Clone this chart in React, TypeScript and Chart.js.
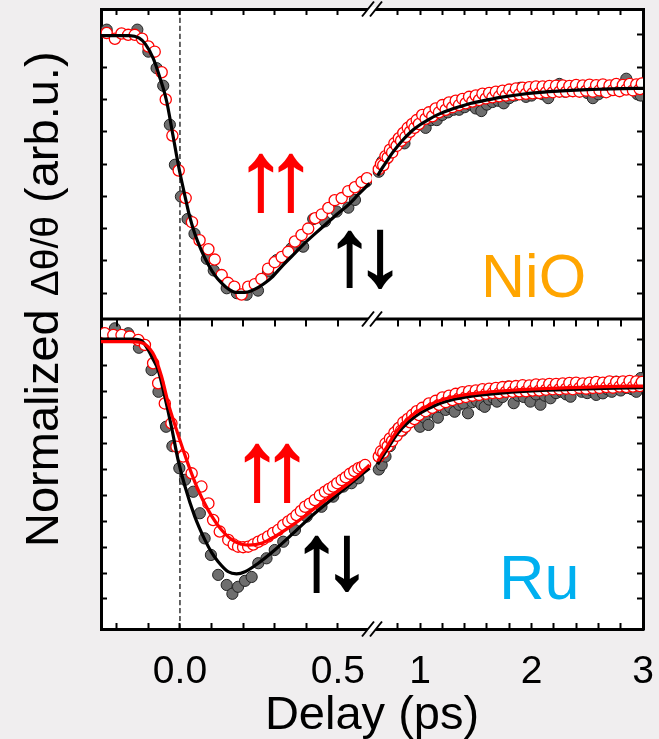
import { useEffect, useRef } from 'react';
import { Chart, registerables } from 'chart.js';

Chart.register(...registerables);

type Pt = [number, number];

// ---------- axis ranges & ticks ----------
const xLeftRange: Pt = [-0.25, 0.608];
const xRightRange: Pt = [0.569, 3.0];
const yTopRange: Pt = [-1.1, 0.1];
const yBottomRange: Pt = [-1.116, 0.081];
const xLeftTickValues = [0, 0.5];
const xLeftTickLabels = ['0.0', '0.5'];
const xRightTickValues = [1, 2, 3];
const xRightTickLabels = ['1', '2', '3'];
const zeroDelay = 0;

// ---------- NiO (top panel) ----------
const nioGrayLeft: Pt[] = [
  [-0.232, 0.02], [-0.135, 0.02], [-0.1, -0.065], [-0.074, -0.129], [-0.053, -0.197], [-0.032, -0.348],
  [-0.016, -0.503], [0.003, -0.626], [0.024, -0.713], [0.046, -0.77], [0.085, -0.867], [0.107, -0.912],
  [0.148, -0.981], [0.18, -1.0], [0.211, -1.006], [0.247, -0.99], [0.279, -0.916], [0.306, -0.872],
  [0.353, -0.826], [0.39, -0.82], [0.422, -0.713], [0.459, -0.722], [0.496, -0.684], [0.533, -0.669],
  [0.554, -0.639], [0.59, -0.568],
];
const nioRedLeft: Pt[] = [
  [-0.232, 0.007], [-0.206, -0.015], [-0.185, 0.005], [-0.164, 0.0], [-0.143, 0.0], [-0.12, -0.015],
  [-0.1, -0.045], [-0.08, -0.065], [-0.058, -0.145], [-0.045, -0.25], [-0.024, -0.39], [-0.004, -0.525],
  [0.018, -0.632], [0.038, -0.725], [0.062, -0.795], [0.09, -0.83], [0.11, -0.87], [0.132, -0.93],
  [0.152, -0.96], [0.172, -0.975], [0.195, -1.005], [0.216, -0.975], [0.237, -0.965], [0.258, -0.945],
  [0.279, -0.905], [0.3, -0.88], [0.322, -0.86], [0.343, -0.84], [0.364, -0.8], [0.385, -0.775],
  [0.406, -0.75], [0.428, -0.71], [0.449, -0.695], [0.47, -0.67], [0.49, -0.64], [0.512, -0.632],
  [0.533, -0.605], [0.554, -0.59], [0.575, -0.57], [0.592, -0.555],
];
const nioFitLeft: Pt[] = [
  [-0.25, -0.003], [-0.16, -0.003], [-0.13, -0.012], [-0.11, -0.035], [-0.085, -0.09], [-0.065, -0.16],
  [-0.042, -0.258], [-0.025, -0.37], [-0.011, -0.465], [0.0, -0.535], [0.016, -0.625], [0.03, -0.7],
  [0.047, -0.77], [0.068, -0.835], [0.09, -0.89], [0.11, -0.93], [0.132, -0.961], [0.155, -0.985],
  [0.18, -0.997], [0.206, -0.997], [0.228, -0.99], [0.248, -0.978], [0.27, -0.96], [0.29, -0.94],
  [0.325, -0.893], [0.364, -0.845], [0.405, -0.795], [0.448, -0.748], [0.49, -0.702], [0.533, -0.658],
  [0.565, -0.618], [0.6, -0.575],
];
const nioGrayRight: Pt[] = [
  [0.63, -0.53], [0.66, -0.49], [0.7, -0.48], [0.74, -0.45], [0.78, -0.43], [0.82, -0.41], [0.86, -0.42],
  [0.9, -0.37], [0.95, -0.35], [1.0, -0.345], [1.05, -0.36], [1.1, -0.33], [1.15, -0.33], [1.2, -0.31],
  [1.25, -0.3], [1.3, -0.29], [1.35, -0.29], [1.4, -0.28], [1.45, -0.27], [1.5, -0.285], [1.55, -0.295],
  [1.6, -0.27], [1.65, -0.26], [1.7, -0.255], [1.75, -0.265], [1.8, -0.245], [1.85, -0.235], [1.9, -0.205],
  [1.95, -0.24], [2.0, -0.235], [2.05, -0.225], [2.1, -0.23], [2.15, -0.245], [2.2, -0.21], [2.25, -0.19],
  [2.3, -0.22], [2.35, -0.215], [2.4, -0.21], [2.45, -0.215], [2.5, -0.225], [2.55, -0.245], [2.6, -0.23],
  [2.65, -0.22], [2.7, -0.215], [2.75, -0.205], [2.8, -0.2], [2.85, -0.17], [2.9, -0.205], [2.95, -0.23],
  [2.98, -0.235],
];
const nioRedRight: Pt[] = [
  [0.63, -0.52], [0.65, -0.5], [0.67, -0.505], [0.69, -0.47], [0.71, -0.475], [0.73, -0.445], [0.75, -0.455],
  [0.77, -0.42], [0.79, -0.43], [0.81, -0.4], [0.83, -0.41], [0.85, -0.38], [0.87, -0.395], [0.89, -0.36],
  [0.91, -0.375], [0.93, -0.345], [0.95, -0.36], [0.97, -0.33], [0.99, -0.345], [1.02, -0.31], [1.05, -0.325],
  [1.08, -0.3], [1.11, -0.315], [1.14, -0.285], [1.17, -0.3], [1.2, -0.272], [1.23, -0.29], [1.26, -0.262],
  [1.29, -0.28], [1.32, -0.255], [1.35, -0.272], [1.38, -0.248], [1.41, -0.265], [1.44, -0.24], [1.47, -0.258],
  [1.5, -0.235], [1.53, -0.252], [1.56, -0.228], [1.59, -0.246], [1.62, -0.225], [1.65, -0.242], [1.68, -0.22],
  [1.71, -0.238], [1.74, -0.216], [1.77, -0.235], [1.8, -0.212], [1.83, -0.232], [1.86, -0.208], [1.89, -0.23],
  [1.92, -0.205], [1.95, -0.228], [1.98, -0.203], [2.01, -0.226], [2.04, -0.2], [2.07, -0.225], [2.1, -0.2],
  [2.13, -0.222], [2.16, -0.198], [2.19, -0.222], [2.22, -0.197], [2.25, -0.22], [2.28, -0.196], [2.31, -0.22],
  [2.34, -0.198], [2.37, -0.218], [2.4, -0.194], [2.43, -0.22], [2.46, -0.196], [2.49, -0.216], [2.52, -0.193],
  [2.55, -0.22], [2.58, -0.195], [2.61, -0.215], [2.64, -0.192], [2.67, -0.222], [2.7, -0.196], [2.73, -0.214],
  [2.76, -0.19], [2.79, -0.218], [2.82, -0.194], [2.85, -0.212], [2.88, -0.19], [2.91, -0.215], [2.94, -0.192],
  [2.97, -0.21], [2.99, -0.188],
];
const nioFitRight: Pt[] = [
  [0.62, -0.545], [0.66, -0.516], [0.7, -0.49], [0.75, -0.458], [0.8, -0.43], [0.85, -0.405], [0.9, -0.383],
  [0.95, -0.364], [1.0, -0.348], [1.08, -0.327], [1.15, -0.311], [1.22, -0.298], [1.3, -0.285], [1.38, -0.275],
  [1.45, -0.266], [1.6, -0.252], [1.75, -0.24], [1.9, -0.231], [2.05, -0.224], [2.2, -0.219], [2.35, -0.215],
  [2.5, -0.212], [2.65, -0.21], [2.8, -0.208], [3.0, -0.207],
];

// ---------- Ru (bottom panel) ----------
const ruGrayLeft: Pt[] = [
  [-0.206, 0.045], [-0.164, 0.026], [-0.13, -0.03], [-0.09, -0.116], [-0.068, -0.2], [-0.044, -0.335],
  [-0.024, -0.41], [-0.002, -0.495], [0.016, -0.54], [0.042, -0.586], [0.063, -0.669], [0.078, -0.766],
  [0.098, -0.83], [0.121, -0.907], [0.148, -0.946], [0.166, -0.98], [0.184, -0.953], [0.206, -0.93],
  [0.227, -0.915], [0.248, -0.862], [0.274, -0.843], [0.3, -0.811], [0.327, -0.779], [0.364, -0.734],
  [0.401, -0.682], [0.448, -0.644], [0.485, -0.605], [0.517, -0.566], [0.543, -0.553], [0.565, -0.534],
];
const ruRedLeft: Pt[] = [
  [-0.238, 0.026], [-0.211, 0.019], [-0.185, 0.019], [-0.159, 0.013], [-0.132, 0.0], [-0.111, -0.019],
  [-0.085, -0.09], [-0.069, -0.167], [-0.048, -0.245], [-0.027, -0.322], [-0.011, -0.412], [0.01, -0.45],
  [0.037, -0.515], [0.068, -0.566], [0.09, -0.631], [0.105, -0.695], [0.126, -0.74], [0.153, -0.772],
  [0.17, -0.79], [0.184, -0.798], [0.2, -0.8], [0.216, -0.798], [0.232, -0.79], [0.248, -0.779],
  [0.263, -0.77], [0.279, -0.759], [0.295, -0.745], [0.311, -0.734], [0.327, -0.715], [0.343, -0.701],
  [0.356, -0.69], [0.369, -0.676], [0.383, -0.66], [0.396, -0.644], [0.411, -0.632], [0.427, -0.618],
  [0.443, -0.6], [0.459, -0.586], [0.472, -0.575], [0.485, -0.566], [0.498, -0.553], [0.512, -0.541],
  [0.525, -0.53], [0.538, -0.517], [0.552, -0.506], [0.565, -0.495], [0.576, -0.49], [0.586, -0.483],
];
const ruBlackFitLeft: Pt[] = [
  [-0.25, 0.003], [-0.15, 0.003], [-0.122, -0.003], [-0.1, -0.039], [-0.085, -0.075], [-0.069, -0.116],
  [-0.048, -0.219], [-0.027, -0.335], [-0.006, -0.463], [0.016, -0.566], [0.047, -0.682], [0.079, -0.772],
  [0.1, -0.82], [0.121, -0.856], [0.153, -0.895], [0.179, -0.903], [0.206, -0.895], [0.248, -0.862],
  [0.3, -0.811], [0.364, -0.74], [0.427, -0.669], [0.491, -0.605], [0.554, -0.541], [0.6, -0.495],
];
const ruRedFitLeft: Pt[] = [
  [-0.25, -0.006], [-0.16, -0.006], [-0.13, -0.008], [-0.111, -0.016], [-0.095, -0.035], [-0.08, -0.064],
  [-0.058, -0.142], [-0.037, -0.245], [-0.011, -0.347], [0.021, -0.463], [0.053, -0.566], [0.089, -0.656],
  [0.132, -0.734], [0.174, -0.779], [0.216, -0.792], [0.258, -0.785], [0.3, -0.759], [0.364, -0.708],
  [0.427, -0.65], [0.491, -0.592], [0.554, -0.534], [0.6, -0.482],
];
const ruGrayRight: Pt[] = [
  [0.63, -0.5], [0.656, -0.483], [0.69, -0.45], [0.73, -0.41], [0.77, -0.37], [0.805, -0.341], [0.84, -0.35],
  [0.88, -0.32], [0.92, -0.3], [0.96, -0.31], [1.0, -0.335], [1.04, -0.3], [1.075, -0.328], [1.12, -0.28],
  [1.16, -0.3], [1.195, -0.232], [1.23, -0.27], [1.27, -0.26], [1.31, -0.277], [1.35, -0.25], [1.39, -0.245],
  [1.43, -0.283], [1.47, -0.24], [1.51, -0.235], [1.55, -0.25], [1.58, -0.258], [1.62, -0.23], [1.66, -0.225],
  [1.69, -0.238], [1.74, -0.22], [1.79, -0.18], [1.84, -0.244], [1.88, -0.215], [1.93, -0.22], [1.99, -0.238],
  [2.04, -0.21], [2.08, -0.25], [2.12, -0.215], [2.17, -0.225], [2.22, -0.205], [2.27, -0.2], [2.31, -0.21],
  [2.35, -0.219], [2.41, -0.174], [2.45, -0.2], [2.5, -0.205], [2.54, -0.195], [2.58, -0.212], [2.64, -0.206],
  [2.68, -0.19], [2.72, -0.2], [2.76, -0.161], [2.8, -0.195], [2.85, -0.185], [2.9, -0.19], [2.94, -0.2],
  [2.98, -0.147],
];
const ruRedRight: Pt[] = [
  [0.63, -0.45], [0.65, -0.43], [0.67, -0.435], [0.69, -0.4], [0.71, -0.41], [0.73, -0.38], [0.75, -0.39],
  [0.77, -0.358], [0.79, -0.37], [0.81, -0.34], [0.83, -0.35], [0.85, -0.318], [0.87, -0.335], [0.89, -0.305],
  [0.91, -0.318], [0.93, -0.29], [0.95, -0.305], [0.97, -0.275], [0.99, -0.29], [1.02, -0.262], [1.05, -0.275],
  [1.08, -0.245], [1.11, -0.262], [1.14, -0.235], [1.17, -0.25], [1.2, -0.222], [1.23, -0.24], [1.26, -0.215],
  [1.29, -0.232], [1.32, -0.208], [1.35, -0.225], [1.38, -0.202], [1.41, -0.22], [1.44, -0.198], [1.47, -0.215],
  [1.5, -0.195], [1.53, -0.212], [1.56, -0.19], [1.59, -0.208], [1.62, -0.188], [1.65, -0.205], [1.68, -0.185],
  [1.71, -0.205], [1.74, -0.182], [1.77, -0.2], [1.8, -0.18], [1.83, -0.2], [1.86, -0.178], [1.89, -0.198],
  [1.92, -0.175], [1.95, -0.198], [1.98, -0.176], [2.01, -0.195], [2.04, -0.172], [2.07, -0.195], [2.1, -0.172],
  [2.13, -0.192], [2.16, -0.17], [2.19, -0.19], [2.22, -0.17], [2.25, -0.19], [2.28, -0.168], [2.31, -0.188],
  [2.34, -0.166], [2.37, -0.19], [2.4, -0.165], [2.43, -0.185], [2.46, -0.168], [2.49, -0.188], [2.52, -0.165],
  [2.55, -0.185], [2.58, -0.162], [2.61, -0.185], [2.64, -0.165], [2.67, -0.182], [2.7, -0.16], [2.73, -0.184],
  [2.76, -0.162], [2.79, -0.18], [2.82, -0.16], [2.85, -0.182], [2.88, -0.158], [2.91, -0.18], [2.94, -0.16],
  [2.97, -0.178], [2.99, -0.162],
];
const ruBlackFitRight: Pt[] = [
  [0.62, -0.48], [0.7, -0.425], [0.8, -0.36], [0.9, -0.315], [1.0, -0.283], [1.15, -0.25], [1.3, -0.23],
  [1.45, -0.218], [1.6, -0.21], [1.75, -0.204], [2.05, -0.196], [2.35, -0.191], [2.65, -0.187], [3.0, -0.184],
];
const ruRedFitRight: Pt[] = [
  [0.62, -0.468], [0.66, -0.44], [0.7, -0.415], [0.73, -0.393], [0.79, -0.353], [0.85, -0.322], [0.92, -0.294],
  [1.0, -0.27], [1.08, -0.252], [1.15, -0.238], [1.22, -0.228], [1.3, -0.219], [1.45, -0.208], [1.6, -0.201],
  [1.75, -0.196], [1.9, -0.192], [2.05, -0.189], [2.35, -0.184], [2.65, -0.18], [3.0, -0.178],
];

// ---------- text ----------
const panelNames = ['NiO', 'Ru'];
const xTitle = 'Delay (ps)';
const yTitleParts = ['Normalized ', '\u0394\u03b8/\u03b8', ' (arb.u.)'];

// ---------- styles ----------
const FONT = '"Liberation Sans", Arial, Helvetica, sans-serif';
const RED = '#ff0000';
const GRAY = '#6e6e6e';
const TICK = 6;
const MARKER_R = 5.6;

const visXL = (v: number) => v < 0.55;
const visXR = (v: number) => v > 0.7;
const visYB = (v: number) => v > -1.05;
const visAll = (_v: number) => true;

const xy = (a: Pt[]) => a.map(([x, y]) => ({ x, y }));

function axis(opts: {
  position: string; stack: string; weight: number; range: Pt; step: number;
  vis: (v: number) => boolean; labels?: [number[], string[]]; size: number; horizontal: boolean;
}) {
  const { position, stack, weight, range, step, vis, labels, size, horizontal } = opts;
  return {
    type: 'linear',
    position, stack, stackWeight: 1, weight,
    min: range[0], max: range[1],
    grid: {
      display: true, drawOnChartArea: false, drawTicks: true, tickLength: -TICK, tickWidth: 2,
      color: '#000',
      tickColor: (c: any) => (vis(c.tick.value) ? '#000' : 'rgba(0,0,0,0)'),
    },
    border: { display: true, color: '#000', width: 3 },
    ticks: {
      display: !!labels, stepSize: step, includeBounds: false, autoSkip: false,
      maxRotation: 0, minRotation: 0, padding: 26, color: '#000',
      font: { size: 39, family: FONT },
      callback: (v: number) => {
        if (!labels) return '';
        const i = labels[0].findIndex((u) => Math.abs(u - v) < 1e-6);
        return i >= 0 ? labels[1][i] : '';
      },
    },
    afterFit: (s: any) => {
      if (horizontal) s.height = size; else s.width = size;
      s.paddingLeft = 0;
      s.paddingRight = 0;
      s.paddingTop = 0;
      s.paddingBottom = 0;
    },
  };
}

function glyph(ctx: CanvasRenderingContext2D, ch: string, cx: number, cy: number, h: number, color: string) {
  ctx.font = `bold 100px ${FONT}`;
  const m = ctx.measureText(ch);
  const gh = m.actualBoundingBoxAscent + m.actualBoundingBoxDescent || 100;
  const size = (100 * (h - 2)) / gh;
  ctx.font = `bold ${size}px ${FONT}`;
  const m2 = ctx.measureText(ch);
  ctx.textAlign = 'left';
  ctx.textBaseline = 'alphabetic';
  const x = cx - (m2.actualBoundingBoxRight - m2.actualBoundingBoxLeft) / 2;
  const y = cy - (m2.actualBoundingBoxDescent - m2.actualBoundingBoxAscent) / 2;
  ctx.fillStyle = color;
  ctx.strokeStyle = color;
  ctx.lineWidth = 2;
  ctx.lineJoin = 'miter';
  ctx.fillText(ch, x, y);
  ctx.strokeText(ch, x, y);
}

const arrows = [
  { ch: '\u2191', color: RED, xs: 'xL', x: 0.256, ys: 'yT', y: -0.573, h: 60 },
  { ch: '\u2191', color: RED, xs: 'xL', x: 0.351, ys: 'yT', y: -0.573, h: 60 },
  { ch: '\u2191', color: '#000', xs: 'xL', x: 0.538, ys: 'yT', y: -0.867, h: 58 },
  { ch: '\u2193', color: '#000', xs: 'xR', x: 0.641, ys: 'yT', y: -0.867, h: 60 },
  { ch: '\u2191', color: RED, xs: 'xL', x: 0.244, ys: 'yB', y: -0.514, h: 60 },
  { ch: '\u2191', color: RED, xs: 'xL', x: 0.339, ys: 'yB', y: -0.514, h: 60 },
  { ch: '\u2191', color: '#000', xs: 'xL', x: 0.434, ys: 'yB', y: -0.865, h: 58 },
  { ch: '\u2193', color: '#000', xs: 'xL', x: 0.529, ys: 'yB', y: -0.862, h: 57 },
];
const names = [
  { text: panelNames[0], color: '#ffa500', xs: 'xR', x: 1.547, ys: 'yT', y: -1.014, size: 61 },
  { text: panelNames[1], color: '#00b0f0', xs: 'xR', x: 1.709, ys: 'yB', y: -1.002, size: 63 },
];

const decor = {
  id: 'decor',
  beforeDraw(chart: any) {
    const { ctx, chartArea: a } = chart;
    ctx.save();
    ctx.fillStyle = '#ffffff';
    ctx.fillRect(a.left, a.top, a.right - a.left, a.bottom - a.top);
    ctx.restore();
  },
  afterDraw(chart: any) {
    const { ctx, chartArea: a, scales: s } = chart;
    const yMid = s.yB.top;
    ctx.save();
    // middle frame line
    ctx.strokeStyle = '#000';
    ctx.lineWidth = 3;
    ctx.beginPath();
    ctx.moveTo(a.left, yMid);
    ctx.lineTo(a.right, yMid);
    ctx.stroke();
    // inward ticks of bottom panel's top edge
    ctx.lineWidth = 2;
    const pairs: [string, (v: number) => boolean][] = [['xL', visXL], ['xR', visXR]];
    for (const [id, vis] of pairs) {
      const sc = s[id];
      for (const t of sc.ticks) {
        if (!vis(t.value)) continue;
        const px = Math.round(sc.getPixelForValue(t.value));
        ctx.beginPath();
        ctx.moveTo(px, yMid);
        ctx.lineTo(px, yMid + 1.5 + TICK);
        ctx.stroke();
      }
    }
    // axis break marks
    const bx = s.xL.right;
    for (const y of [a.top, yMid, a.bottom]) {
      ctx.fillStyle = '#ffffff';
      ctx.beginPath();
      ctx.moveTo(bx - 4 - 1.3, y + 2);
      ctx.lineTo(bx - 4 + 1.3, y - 2);
      ctx.lineTo(bx + 4 + 1.3, y - 2);
      ctx.lineTo(bx + 4 - 1.3, y + 2);
      ctx.closePath();
      ctx.fill();
      ctx.strokeStyle = '#000';
      ctx.lineWidth = 2;
      for (const dx of [-4, 4]) {
        ctx.beginPath();
        ctx.moveTo(bx + dx - 6, y + 7.5);
        ctx.lineTo(bx + dx + 6, y - 7.5);
        ctx.stroke();
      }
    }
    // spin arrows
    for (const ar of arrows) {
      glyph(ctx, ar.ch, s[ar.xs].getPixelForValue(ar.x), s[ar.ys].getPixelForValue(ar.y), ar.h, ar.color);
    }
    // sample names
    for (const n of names) {
      ctx.font = `${n.size}px ${FONT}`;
      ctx.fillStyle = n.color;
      ctx.textAlign = 'left';
      ctx.textBaseline = 'alphabetic';
      ctx.fillText(n.text, s[n.xs].getPixelForValue(n.x), s[n.ys].getPixelForValue(n.y));
    }
    // x title
    ctx.fillStyle = '#000';
    ctx.font = `47px ${FONT}`;
    ctx.textAlign = 'center';
    ctx.textBaseline = 'alphabetic';
    ctx.fillText(xTitle, (a.left + a.right) / 2, 729);
    // y title (mixed sizes)
    ctx.translate(58, 547);
    ctx.rotate(-Math.PI / 2);
    ctx.textAlign = 'left';
    let cur = 0;
    const sizes = [47, 39, 47];
    yTitleParts.forEach((p, i) => {
      ctx.font = `${sizes[i]}px ${FONT}`;
      ctx.fillText(p, cur, 0);
      cur += ctx.measureText(p).width;
    });
    ctx.restore();
  },
};

export default function App() {
  const ref = useRef<HTMLCanvasElement>(null);
  useEffect(() => {
    const canvas = ref.current;
    if (!canvas) return;
    const pts = (data: Pt[], xs: string, ys: string, fill: string, stroke: string, bw: number) => ({
      data: xy(data), xAxisID: xs, yAxisID: ys, showLine: false,
      pointRadius: MARKER_R, pointHoverRadius: MARKER_R, pointBackgroundColor: fill, pointBorderColor: stroke,
      pointBorderWidth: bw, backgroundColor: fill, borderColor: stroke,
    });
    const line = (data: Pt[], xs: string, ys: string, color: string, width: number, dash: number[] = []) => ({
      data: xy(data), xAxisID: xs, yAxisID: ys, showLine: true, pointRadius: 0, pointHoverRadius: 0,
      borderColor: color, borderWidth: width, borderDash: dash, cubicInterpolationMode: 'monotone',
      backgroundColor: color, fill: false,
    });
    const datasets = [
      line(nioFitLeft, 'xL', 'yT', '#000', 3.2),
      line(nioFitRight, 'xR', 'yT', '#000', 3.2),
      pts(nioRedLeft, 'xL', 'yT', '#ffffff', RED, 1.3),
      pts(nioRedRight, 'xR', 'yT', '#ffffff', RED, 1.3),
      pts(nioGrayLeft, 'xL', 'yT', GRAY, '#222', 1),
      pts(nioGrayRight, 'xR', 'yT', GRAY, '#222', 1),
      line(ruRedFitLeft, 'xL', 'yB', RED, 3.2),
      line(ruRedFitRight, 'xR', 'yB', RED, 3.2),
      line(ruBlackFitLeft, 'xL', 'yB', '#000', 3.2),
      line(ruBlackFitRight, 'xR', 'yB', '#000', 3.2),
      pts(ruRedLeft, 'xL', 'yB', '#ffffff', RED, 1.3),
      pts(ruRedRight, 'xR', 'yB', '#ffffff', RED, 1.3),
      pts(ruGrayLeft, 'xL', 'yB', GRAY, '#222', 1),
      pts(ruGrayRight, 'xR', 'yB', GRAY, '#222', 1),
      line([[zeroDelay, yTopRange[0]], [zeroDelay, yTopRange[1]]], 'xL', 'yT', '#000', 1.2, [5, 3]),
      line([[zeroDelay, yBottomRange[0]], [zeroDelay, yBottomRange[1]]], 'xL', 'yB', '#000', 1.2, [5, 3]),
    ];
    const chart = new Chart(canvas, {
      type: 'scatter',
      data: { datasets: datasets as any },
      options: {
        animation: false,
        responsive: false,
        devicePixelRatio: 1,
        events: [],
        layout: { padding: 0, autoPadding: false },
        plugins: { legend: { display: false }, tooltip: { enabled: false }, title: { display: false } },
        scales: {
          xL: axis({ position: 'bottom', stack: 'xb', weight: 0, range: xLeftRange, step: 0.1, vis: visXL,
            labels: [xLeftTickValues, xLeftTickLabels], size: 110, horizontal: true }),
          xR: axis({ position: 'bottom', stack: 'xb', weight: 1, range: xRightRange, step: 0.2, vis: visXR,
            labels: [xRightTickValues, xRightTickLabels], size: 110, horizontal: true }),
          xLt: axis({ position: 'top', stack: 'xt', weight: 1, range: xLeftRange, step: 0.1, vis: visXL,
            size: 9, horizontal: true }),
          xRt: axis({ position: 'top', stack: 'xt', weight: 0, range: xRightRange, step: 0.2, vis: visXR,
            size: 9, horizontal: true }),
          yT: axis({ position: 'left', stack: 'yl', weight: 1, range: yTopRange, step: 0.125, vis: visAll,
            size: 101, horizontal: false }),
          yB: axis({ position: 'left', stack: 'yl', weight: 0, range: yBottomRange, step: 0.1, vis: visYB,
            size: 101, horizontal: false }),
          yTr: axis({ position: 'right', stack: 'yr', weight: 0, range: yTopRange, step: 0.125, vis: visAll,
            size: 16, horizontal: false }),
          yBr: axis({ position: 'right', stack: 'yr', weight: 1, range: yBottomRange, step: 0.1, vis: visYB,
            size: 16, horizontal: false }),
        } as any,
      },
      plugins: [decor],
    } as any);
    return () => chart.destroy();
  }, []);
  return (
    <div style={{ position: 'absolute', left: 0, top: 0, width: 659, height: 739, background: '#f0eeef', overflow: 'hidden' }}>
      <canvas ref={ref} width={659} height={739} style={{ display: 'block', width: 659, height: 739 }} />
    </div>
  );
}
